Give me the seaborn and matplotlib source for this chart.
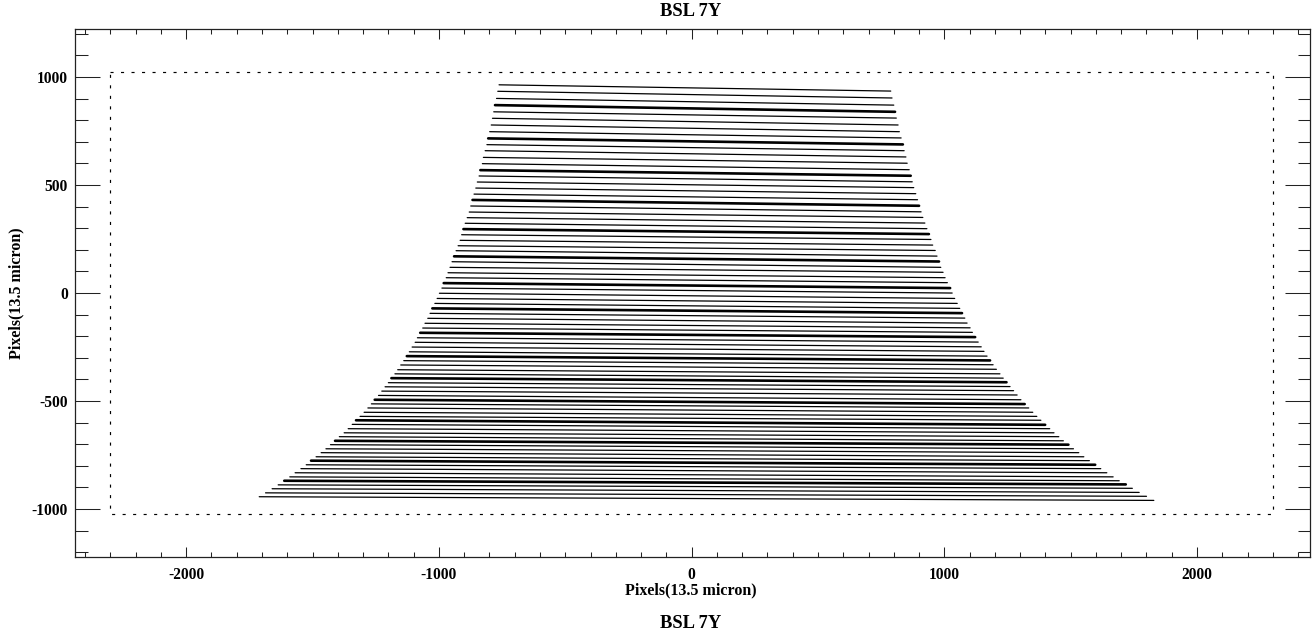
import numpy as np
import pandas as pd
import matplotlib
matplotlib.use('Agg')
import matplotlib.pyplot as plt
from matplotlib.ticker import MultipleLocator
import seaborn as sns

# Slit ends, one value per slit, top to bottom
left_x = [-762, -767, -772, -778, -783, -788, -793, -799, -805, -810, -817, -824, -828, -836, -841, -848, -854,
          -861, -867, -874, -880, -888, -896, -903, -910, -916, -924, -932, -940, -948, -956, -964, -971, -981,
          -988, -998, -1007, -1016, -1026, -1035, -1044, -1055, -1064, -1074, -1085, -1094, -1106, -1117, -1127,
          -1139, -1151, -1163, -1174, -1188, -1200, -1213, -1226, -1239, -1254, -1267, -1281, -1296, -1312, -1328,
          -1343, -1359, -1375, -1394, -1411, -1429, -1447, -1466, -1486, -1506, -1525, -1546, -1569, -1590, -1612,
          -1636, -1660, -1686, -1711]
left_y = [964, 934, 901, 870, 839, 809, 778, 747, 716, 687, 659, 628, 599, 569, 542, 514, 486,
          458, 431, 403, 375, 349, 323, 296, 270, 244, 219, 196, 170, 145, 119, 94, 71, 46,
          23, -1, -25, -48, -71, -94, -117, -140, -162, -184, -207, -228, -250, -272, -292,
          -313, -333, -355, -374, -394, -415, -434, -454, -474, -494, -513, -532, -552, -571, -589,
          -608, -628, -647, -665, -684, -702, -721, -739, -758, -776, -795, -813, -832, -851, -869,
          -888, -906, -925, -943]
right_x = [788, 793, 800, 805, 810, 817, 822, 829, 836, 841, 848, 853, 861, 867, 873, 879, 887,
           894, 900, 908, 915, 923, 931, 939, 947, 954, 964, 971, 979, 986, 995, 1003, 1012, 1023,
           1031, 1041, 1051, 1061, 1070, 1081, 1090, 1102, 1111, 1122, 1134, 1146, 1157, 1169, 1181,
           1193, 1206, 1220, 1233, 1246, 1260, 1274, 1288, 1303, 1318, 1334, 1350, 1366, 1382, 1399,
           1417, 1434, 1453, 1471, 1491, 1511, 1532, 1552, 1574, 1597, 1619, 1643, 1668, 1692, 1718,
           1744, 1771, 1800, 1829]
right_y = [935, 903, 870, 839, 810, 778, 747, 718, 688, 659, 630, 601, 571, 543, 515, 488, 460,
           432, 404, 376, 350, 324, 298, 273, 248, 222, 197, 171, 146, 119, 96, 71, 48, 23,
           0, -25, -48, -71, -93, -116, -139, -161, -182, -204, -227, -249, -270, -292, -312,
           -332, -353, -374, -394, -413, -433, -452, -472, -494, -514, -532, -552, -571, -589, -610,
           -628, -647, -665, -684, -702, -721, -739, -758, -776, -795, -813, -832, -851, -869, -886,
           -904, -923, -941, -960]
thick_rows = [3, 8, 13, 18, 23, 28, 33, 38, 43, 48, 53, 58, 63, 68, 73, 78]

# Detector outline
box_x = [-2300, 2300, 2300, -2300, -2300]
box_y = [1024, 1024, -1024, -1024, 1024]

x_ticks = [-2000, -1000, 0, 1000, 2000]
y_ticks = [-1000, -500, 0, 500, 1000]
title = 'BSL 7Y'
axis_label = 'Pixels(13.5 micron)'

sns.set_style('ticks')
plt.rcParams['font.family'] = ['Liberation Serif', 'DejaVu Serif']
plt.rcParams['font.weight'] = 'bold'
plt.rcParams['text.color'] = 'black'

# Long form table, two rows per slit
rows = []
for i in range(len(left_x)):
    weight = 'thick' if i in thick_rows else 'thin'
    rows.append({'slit': i, 'x': left_x[i], 'y': left_y[i], 'weight': weight})
    rows.append({'slit': i, 'x': right_x[i], 'y': right_y[i], 'weight': weight})
df = pd.DataFrame(rows)

fig = plt.figure(figsize=(13.12, 6.33), dpi=100)
ax = fig.add_axes([75 / 1312, 1 - 557 / 633, (1310 - 75) / 1312, (557 - 29.3) / 633])

sns.lineplot(data=df, x='x', y='y', units='slit', estimator=None, size='weight',
             sizes={'thin': 0.9, 'thick': 1.9}, color='black', sort=False, legend=False, ax=ax)
sns.lineplot(x=box_x, y=box_y, estimator=None, sort=False, color='black', linewidth=0.85,
             linestyle=(0, (2.6, 6.3)), ax=ax)

ax.set_xlim(-2440, 2447)
ax.set_ylim(-1222, 1221)
ax.set_xticks(x_ticks)
ax.set_yticks(y_ticks)
ax.set_xticklabels([str(t) for t in x_ticks])
ax.set_yticklabels([str(t) for t in y_ticks])
ax.xaxis.set_minor_locator(MultipleLocator(100))
ax.yaxis.set_minor_locator(MultipleLocator(100))

ax.tick_params(axis='x', which='major', direction='in', length=7.5, width=0.75, top=True, bottom=True,
               labelsize=11.2, pad=7, color='#222222', labelcolor='black')
ax.tick_params(axis='x', which='minor', direction='in', length=3.8, width=0.75, top=True, bottom=True,
               color='#222222')
ax.tick_params(axis='y', which='major', direction='in', length=18, width=0.75, left=True, right=True,
               labelsize=11.2, pad=5, color='#222222', labelcolor='black')
ax.tick_params(axis='y', which='minor', direction='in', length=9, width=0.75, left=True, right=True,
               color='#222222')
for side in ax.spines:
    ax.spines[side].set_visible(True)
    ax.spines[side].set_linewidth(0.9)
    ax.spines[side].set_color('#222222')

ax.set_xlabel('')
ax.set_ylabel('')
fig.text(691 / 1312, 1 - 590 / 633, axis_label, ha='center', va='center', fontsize=11.5, fontweight='bold')
fig.text(16 / 1312, 1 - 293 / 633, axis_label, ha='center', va='center', rotation=90, fontsize=11.5, fontweight='bold')
fig.text(691 / 1312, 1 - 11 / 633, title, ha='center', va='center', fontsize=13.3, fontweight='bold')
fig.text(691 / 1312, 1 - 623 / 633, title, ha='center', va='center', fontsize=13.3, fontweight='bold')

fig.savefig('out.png', dpi=100)
